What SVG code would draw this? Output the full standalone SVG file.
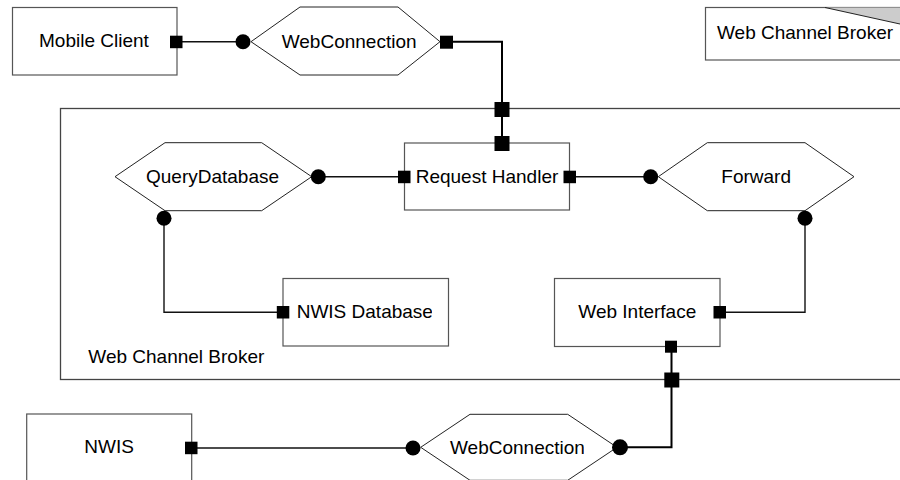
<svg xmlns="http://www.w3.org/2000/svg" width="900" height="480" viewBox="0 0 900 480">
<defs>
<style>
.box{fill:#fff;stroke:#555;stroke-width:1.2}
.cont{fill:none;stroke:#444;stroke-width:1.3}
.hex{fill:#fff;stroke:#222;stroke-width:1}
.lbl{font-family:"Liberation Sans",Arial,sans-serif;font-size:19px;fill:#000}
.wire{fill:none;stroke:#111;stroke-width:1.4}
.wire2{fill:none;stroke:#000;stroke-width:2}
.port{fill:#000}
.ball{fill:#000}
</style>
<clipPath id="c1"><rect x="270" y="20" width="146" height="40"/></clipPath>
<clipPath id="c2"><rect x="140" y="160" width="139" height="40"/></clipPath>
<clipPath id="c3"><rect x="290" y="295" width="142" height="40"/></clipPath>
<clipPath id="c4"><rect x="440" y="430" width="144" height="40"/></clipPath>
</defs>
<rect width="900" height="480" fill="#fff"/>

<g id="broker-container">
<rect class="cont" x="60.5" y="108.5" width="900" height="271"/>
<text class="lbl" x="88.3" y="363.3">Web Channel Broker</text>
</g>

<g id="broker-label">
<rect class="box" x="705.5" y="7.5" width="220" height="52.5"/>
<polygon points="825,7.5 900,7.5 900,24" fill="#ccc"/>
<line x1="825" y1="7.5" x2="900" y2="24" stroke="#222" stroke-width="1"/>
<text class="lbl" x="717" y="39.3">Web Channel Broker</text>
</g>

<g id="mobile-client">
<rect class="box" x="12.5" y="7.5" width="164.5" height="67.5"/>
<text class="lbl" x="39" y="47">Mobile Client</text>
</g>

<g id="webconnection-top">
<polygon class="hex" points="251,41.7 300,7 398,7 440,41.7 398,75 300,75"/>
<text class="lbl" x="281.7" y="47.5" clip-path="url(#c1)">WebConnection</text>
</g>

<g id="query-database">
<polygon class="hex" points="115,176.7 165,142.7 261.7,142.7 311.7,176.7 261.7,210.7 165,210.7"/>
<text class="lbl" x="146" y="183" clip-path="url(#c2)">QueryDatabase</text>
</g>

<g id="request-handler">
<rect class="box" x="404.5" y="143" width="165" height="67"/>
<text class="lbl" x="415.7" y="182.5">Request Handler</text>
</g>

<g id="forward">
<polygon class="hex" points="658.3,176.7 707.3,142.7 805,142.7 854,176.7 805,210.7 707.3,210.7"/>
<text class="lbl" x="721.3" y="182.5">Forward</text>
</g>

<g id="nwis-database">
<rect class="box" x="283" y="278.5" width="165.5" height="67.5"/>
<text class="lbl" x="296.7" y="318.3" clip-path="url(#c3)">NWIS Database</text>
</g>

<g id="web-interface">
<rect class="box" x="554.5" y="278.5" width="165.5" height="68"/>
<text class="lbl" x="578.3" y="318.3">Web Interface</text>
</g>

<g id="nwis">
<rect class="box" x="26.7" y="414" width="165" height="80"/>
<text class="lbl" x="84.3" y="453.3">NWIS</text>
</g>

<g id="webconnection-bottom">
<polygon class="hex" points="420.7,447.3 470,414.3 567.7,414.3 617,447.3 567.7,480.3 470,480.3"/>
<text class="lbl" x="450" y="454" clip-path="url(#c4)">WebConnection</text>
</g>

<g id="connectors">
<line class="wire" x1="176" y1="41.7" x2="243" y2="41.7"/>
<polyline class="wire2" points="446.5,41.7 502,41.7 502,143.5"/>
<line class="wire" x1="318.3" y1="176.7" x2="404" y2="176.7"/>
<line class="wire" x1="569.7" y1="176.7" x2="650.7" y2="176.7"/>
<polyline class="wire" points="164,218.3 164,312.3 283,312.3"/>
<polyline class="wire" points="805,218.3 805,312.3 720,312.3"/>
<polyline class="wire2" points="671.5,346.7 671.5,447.3 620,447.3"/>
<line class="wire" x1="191.3" y1="448" x2="413" y2="448"/>

<rect class="port" x="170" y="35.7" width="12.5" height="12.5"/>
<circle class="ball" cx="243" cy="41.7" r="7.5"/>
<rect class="port" x="440" y="35.7" width="13" height="13"/>
<rect class="port" x="494.5" y="102" width="15" height="15"/>
<rect class="port" x="494.5" y="136" width="15" height="15"/>
<circle class="ball" cx="318.3" cy="176.7" r="7.5"/>
<rect class="port" x="398" y="170.7" width="12.5" height="12.5"/>
<rect class="port" x="563.5" y="170.7" width="12.5" height="12.5"/>
<circle class="ball" cx="650.7" cy="176.7" r="7.5"/>
<circle class="ball" cx="164" cy="218.3" r="7.5"/>
<rect class="port" x="276.8" y="306" width="12.5" height="12.5"/>
<circle class="ball" cx="805" cy="218.3" r="7.5"/>
<rect class="port" x="713.5" y="306" width="12.5" height="12.5"/>
<rect class="port" x="665" y="340.7" width="12" height="12"/>
<rect class="port" x="664.3" y="372.5" width="15" height="15"/>
<circle class="ball" cx="620" cy="447.3" r="8"/>
<rect class="port" x="185" y="441.7" width="12.5" height="12.5"/>
<circle class="ball" cx="413" cy="448" r="7.5"/>
</g>
</svg>
